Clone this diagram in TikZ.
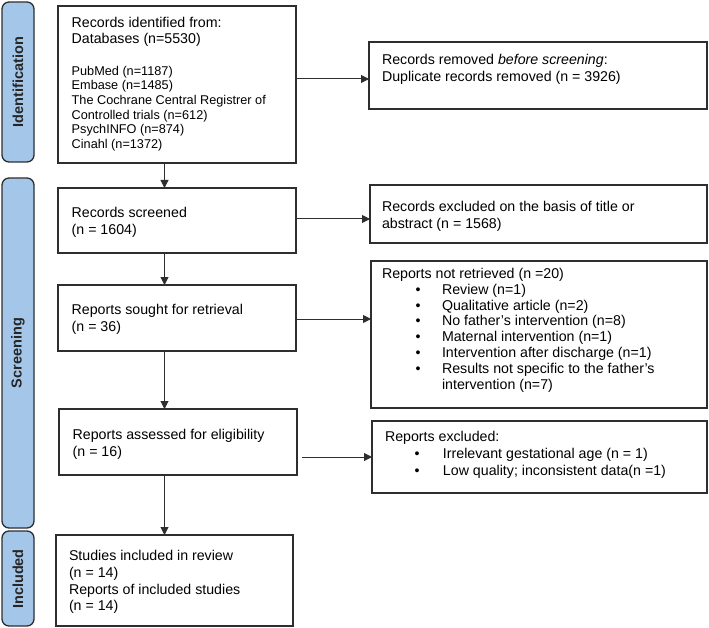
\documentclass[tikz,border=0pt]{standalone}
\usepackage{fontspec}
\setmainfont{Liberation Sans}
\usetikzlibrary{arrows.meta,calc}
\definecolor{sidefill}{HTML}{A4C6E8}
\definecolor{edge}{HTML}{2E2E2E}
\newcommand{\blk}[1]{\begin{tabular}[t]{@{}l@{}}#1\end{tabular}}
\newcommand{\bl}[3]{\hspace*{#1pt}\makebox[#2pt][l]{•}#3}
\begin{document}
\begin{tikzpicture}[x=1pt,y=-1pt,
  box/.style={draw=edge, line width=1.3pt, inner sep=0pt, outer sep=0pt},
  sidebox/.style={draw=edge, line width=1.3pt, fill=sidefill, rounded corners=7pt},
  sidetext/.style={rotate=90, font=\bfseries\fontsize{14.5}{17}\selectfont, text=black!85, inner sep=0pt},
  txt/.style={anchor=base west, inner sep=0pt, outer sep=0pt},
  arr/.style={draw=edge, line width=1pt, -{Triangle[length=8pt,width=8pt]}}]
\useasboundingbox (0,0) rectangle (709,628);

% sidebars
\draw[sidebox] (2,2) rectangle (34,162);
\draw[sidebox] (2,178) rectangle (34,528);
\draw[sidebox] (2,531) rectangle (34,626);
\node[sidetext] (sid) at (18,82) {Identification};
\node[sidetext] (sscr) at (18,353) {Screening};
\node[sidetext] (sinc) at (18,579) {Included};

% boxes
\node[box, minimum width=238pt, minimum height=157pt] (b1) at (177,84.5) {};
\node[box, minimum width=338pt, minimum height=67pt] (r1) at (538,75.5) {};
\node[box, minimum width=238pt, minimum height=65pt] (b2) at (177,220.5) {};
\node[box, minimum width=337pt, minimum height=58pt] (e1) at (538.5,214) {};
\node[box, minimum width=238pt, minimum height=66pt] (b3) at (177,318) {};
\node[box, minimum width=336pt, minimum height=147pt] (nr) at (539,334.5) {};
\node[box, minimum width=238pt, minimum height=66pt] (b4) at (178,442) {};
\node[box, minimum width=335pt, minimum height=72pt] (e2) at (539.5,457) {};
\node[box, minimum width=237pt, minimum height=91pt] (b5) at (174.5,580.5) {};

% texts
\node[txt, font=\fontsize{14.2}{15.6}\selectfont] (t1a) at (71.7,27.7)
  {\blk{Records identified from:\\Databases (n=5530)}};
\node[txt, font=\fontsize{12.7}{14.7}\selectfont] (t1b) at (71.7,75.2)
  {\blk{PubMed (n=1187)\\Embase (n=1485)\\The Cochrane Central Registrer of\\Controlled trials (n=612)\\PsychINFO (n=874)\\Cinahl (n=1372)}};
\node[txt, font=\fontsize{14.2}{16.7}\selectfont] (tr1) at (382,65)
  {\blk{Records removed \textit{before screening}:\\Duplicate records removed (n = 3926)}};
\node[txt, font=\fontsize{14.2}{16.6}\selectfont] (t2) at (71.7,217.7)
  {\blk{Records screened\\(n = 1604)}};
\node[txt, font=\fontsize{14.2}{17}\selectfont] (te1) at (382,212)
  {\blk{Records excluded on the basis of title or\\abstract (n = 1568)}};
\node[txt, font=\fontsize{14.2}{17}\selectfont] (t3) at (71.7,314)
  {\blk{Reports sought for retrieval\\(n = 36)}};
\node[txt, font=\fontsize{14.2}{15.85}\selectfont] (tnr) at (382,278.3)
  {\blk{Reports not retrieved (n =20)\\
   \bl{33.5}{26.5}{Review (n=1)}\\
   \bl{33.5}{26.5}{Qualitative article (n=2)}\\
   \bl{33.5}{26.5}{No father’s intervention (n=8)}\\
   \bl{33.5}{26.5}{Maternal intervention (n=1)}\\
   \bl{33.5}{26.5}{Intervention after discharge (n=1)}\\
   \bl{33.5}{26.5}{Results not specific to the father’s}\\
   \hspace*{60pt}intervention (n=7)}};
\node[txt, font=\fontsize{14.2}{17.4}\selectfont] (t4) at (72.7,439.3)
  {\blk{Reports assessed for eligibility\\(n = 16)}};
\node[txt, font=\fontsize{14.2}{17.3}\selectfont] (te2) at (385,441)
  {\blk{Reports excluded:\\
   \bl{29.5}{28.5}{Irrelevant gestational age (n = 1)}\\
   \bl{29.5}{28.5}{Low quality; inconsistent data(n =1)}}};
\node[txt, font=\fontsize{14.2}{16.7}\selectfont] (t5) at (69,560.7)
  {\blk{Studies included in review\\(n = 14)\\Reports of included studies\\(n = 14)}};

% connectors
\coordinate (vx) at (164.5,0);
\draw[arr] (vx |- b1.south) -- (vx |- b2.north);
\draw[arr] (vx |- b2.south) -- (vx |- b3.north);
\draw[arr] (vx |- b3.south) -- (vx |- b4.north);
\draw[arr] (vx |- b4.south) -- (vx |- b5.north);

\draw[arr] ($(b1.east)+(0,-5.5)$) -- ($(r1.west)+(0,3.5)$);
\draw[arr] ($(b2.east)+(0,-1.5)$) -- ($(e1.west)+(0,5)$);
\draw[arr] ($(b3.east)+(0,1)$) -- ($(nr.west)+(0,-15.5)$);
\draw[arr] ($(b4.east)+(5,15)$) -- (e2.west);
\end{tikzpicture}
\end{document}
